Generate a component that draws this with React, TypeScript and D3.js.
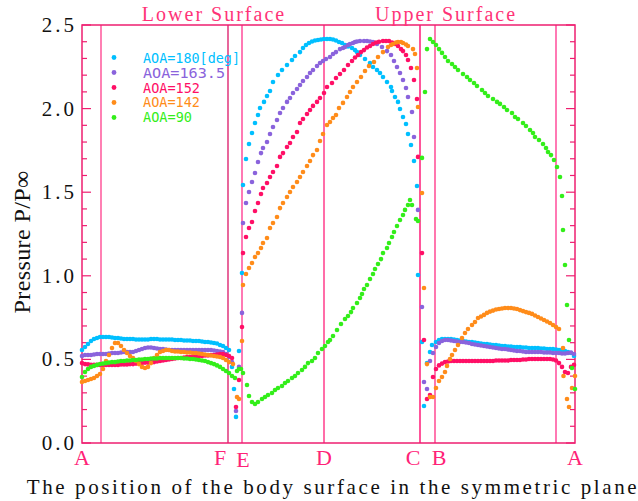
import React from "react";
import * as d3 from "d3";

// ---------- data (x = position along body surface, y = P/P∞) ----------
const lowerStart = 0;
const upperStart = 354;
const sampleStep = 3;

const aoa180Lower = [
  0.556, 0.574, 0.592, 0.61, 0.622, 0.628, 0.634, 0.634, 0.634, 0.634,
  0.631, 0.628, 0.628, 0.625, 0.622, 0.622, 0.622, 0.622, 0.619, 0.619,
  0.619, 0.619, 0.619, 0.622, 0.622, 0.622, 0.619, 0.619, 0.619, 0.619,
  0.619, 0.616, 0.616, 0.616, 0.613, 0.613, 0.613, 0.61, 0.61, 0.61,
  0.607, 0.604, 0.604, 0.601, 0.598, 0.595, 0.586, 0.58, 0.568,
];
const aoa180Mid = [
  [147, 0.556], [150, 0.455], [152, 0.323], [154, 0.156], [157, 0.55], [160, 1.017],
  [161, 1.543], [164, 1.699], [167, 1.788], [170, 1.854], [173, 1.914], [176, 1.962],
  [178, 2.004], [182, 2.04], [185, 2.075], [188, 2.105], [191, 2.159], [196, 2.201],
  [200, 2.231], [205, 2.261], [210, 2.291], [213, 2.315], [218, 2.338], [221, 2.362],
  [224, 2.38], [227, 2.392], [230, 2.401], [233, 2.407], [236, 2.41], [239, 2.413],
  [242, 2.416], [245, 2.416], [248, 2.416], [251, 2.413], [254, 2.407], [257, 2.398],
  [260, 2.392], [263, 2.38], [266, 2.371], [270, 2.362], [273, 2.35], [275, 2.338],
  [278, 2.321], [283, 2.297], [288, 2.273], [291, 2.249], [295, 2.231], [298, 2.213],
  [301, 2.189], [305, 2.159], [309, 2.129], [310, 2.105], [313, 2.069], [316, 2.04],
  [318, 1.998], [321, 1.95], [324, 1.908], [326, 1.848], [329, 1.782], [332, 1.687],
  [335, 1.537], [336, 1.005], [340, 0.604], [342, 0.221], [345, 0.478], [348, 0.544],
  [350, 0.586],
];
const aoa180Upper = [
  0.604, 0.616, 0.622, 0.622, 0.622, 0.622, 0.619, 0.616, 0.613, 0.61,
  0.607, 0.604, 0.604, 0.601, 0.598, 0.595, 0.592, 0.592, 0.589, 0.586,
  0.586, 0.583, 0.58, 0.58, 0.577, 0.577, 0.574, 0.574, 0.574, 0.571,
  0.571, 0.568, 0.568, 0.568, 0.568, 0.565, 0.565, 0.562, 0.562, 0.562,
  0.559, 0.556, 0.556, 0.55, 0.544, 0.538, 0.52,
];

const aoa1635Lower = [
  0.52, 0.526, 0.526, 0.526, 0.529, 0.532, 0.532, 0.532, 0.532, 0.535,
  0.538, 0.538, 0.538, 0.541, 0.544, 0.544, 0.544, 0.544, 0.55, 0.556,
  0.562, 0.568, 0.571, 0.571, 0.568, 0.565, 0.562, 0.562, 0.559, 0.556,
  0.556, 0.556, 0.556, 0.556, 0.556, 0.556, 0.556, 0.556, 0.556, 0.556,
  0.556, 0.556, 0.556, 0.556, 0.553, 0.55, 0.547, 0.544, 0.532,
];
const aoa1635Mid = [
  [147, 0.514], [150, 0.484], [154, 0.191], [157, 0.455], [160, 0.778], [161, 1.316],
  [164, 1.435], [167, 1.501], [170, 1.561], [173, 1.615], [176, 1.681], [179, 1.734],
  [181, 1.764], [185, 1.8], [188, 1.848], [191, 1.89], [195, 1.932], [198, 1.974],
  [201, 2.004], [205, 2.04], [208, 2.063], [211, 2.093], [215, 2.117], [218, 2.141],
  [221, 2.165], [225, 2.189], [228, 2.213], [231, 2.231], [235, 2.255], [238, 2.273],
  [241, 2.285], [244, 2.297], [248, 2.309], [251, 2.327], [254, 2.338], [258, 2.356],
  [261, 2.362], [263, 2.368], [266, 2.38], [268, 2.386], [271, 2.392], [273, 2.398],
  [275, 2.401], [278, 2.404], [282, 2.404], [285, 2.404], [288, 2.401], [291, 2.398],
  [295, 2.386], [300, 2.368], [305, 2.344], [309, 2.321], [312, 2.285], [315, 2.249],
  [318, 2.213], [321, 2.171], [324, 2.123], [326, 2.069], [330, 1.98], [332, 1.83],
  [336, 1.394], [340, 0.813], [342, 0.365], [345, 0.323], [348, 0.49], [351, 0.538],
];
const aoa1635Upper = [
  0.574, 0.598, 0.61, 0.616, 0.616, 0.613, 0.61, 0.607, 0.604, 0.604,
  0.601, 0.598, 0.592, 0.589, 0.586, 0.583, 0.58, 0.577, 0.574, 0.571,
  0.568, 0.565, 0.562, 0.562, 0.559, 0.556, 0.553, 0.55, 0.55, 0.547,
  0.544, 0.544, 0.544, 0.544, 0.544, 0.544, 0.541, 0.541, 0.541, 0.538,
  0.538, 0.538, 0.535, 0.535, 0.538, 0.541, 0.532,
];

const aoa152Lower = [
  0.478, 0.472, 0.47, 0.467, 0.467, 0.467, 0.467, 0.467, 0.467, 0.467,
  0.467, 0.467, 0.467, 0.47, 0.47, 0.47, 0.472, 0.472, 0.475, 0.478,
  0.478, 0.481, 0.481, 0.484, 0.484, 0.487, 0.49, 0.493, 0.496, 0.499,
  0.502, 0.505, 0.508, 0.508, 0.511, 0.514, 0.514, 0.517, 0.517, 0.52,
  0.52, 0.523, 0.523, 0.526, 0.526, 0.529, 0.532, 0.532, 0.526,
];
const aoa152Mid = [
  [147, 0.52], [150, 0.508], [154, 0.215], [157, 0.377], [160, 0.694], [161, 1.136],
  [164, 1.232], [167, 1.286], [170, 1.322], [173, 1.388], [176, 1.435], [179, 1.489],
  [181, 1.525], [185, 1.555], [188, 1.591], [191, 1.621], [195, 1.657], [198, 1.711],
  [201, 1.734], [205, 1.77], [208, 1.794], [211, 1.83], [215, 1.86], [218, 1.914],
  [221, 1.938], [225, 1.968], [228, 1.992], [231, 2.016], [235, 2.04], [238, 2.063],
  [242, 2.093], [245, 2.129], [250, 2.153], [254, 2.183], [258, 2.207], [262, 2.231],
  [266, 2.261], [270, 2.285], [273, 2.306], [276, 2.321], [279, 2.338], [282, 2.35],
  [285, 2.365], [288, 2.374], [291, 2.386], [294, 2.395], [297, 2.4], [301, 2.404],
  [304, 2.404], [307, 2.404], [310, 2.395], [313, 2.386], [316, 2.374], [319, 2.356],
  [321, 2.344], [324, 2.321], [326, 2.291], [329, 2.243], [332, 2.171], [335, 2.057],
  [336, 1.711], [340, 1.136], [342, 0.616], [345, 0.263], [348, 0.287], [351, 0.395],
];
const aoa152Upper = [
  0.443, 0.464, 0.475, 0.484, 0.487, 0.49, 0.49, 0.49, 0.49, 0.49,
  0.49, 0.49, 0.49, 0.49, 0.49, 0.49, 0.49, 0.49, 0.49, 0.49,
  0.493, 0.493, 0.493, 0.493, 0.493, 0.496, 0.496, 0.496, 0.496, 0.499,
  0.499, 0.502, 0.502, 0.502, 0.502, 0.502, 0.502, 0.502, 0.502, 0.499,
  0.493, 0.478, 0.455, 0.425, 0.419, 0.455, 0.467,
];

const aoa142Lower = [
  0.365, 0.371, 0.377, 0.383, 0.389, 0.401, 0.413, 0.443, 0.49, 0.526,
  0.568, 0.598, 0.598, 0.58, 0.556, 0.538, 0.52, 0.508, 0.49, 0.472,
  0.455, 0.449, 0.455, 0.478, 0.508, 0.526, 0.544, 0.55, 0.556, 0.556,
  0.55, 0.547, 0.547, 0.544, 0.544, 0.541, 0.541, 0.538, 0.538, 0.535,
  0.532, 0.529, 0.526, 0.523, 0.52, 0.517, 0.514, 0.508, 0.496,
];
const aoa142Mid = [
  [147, 0.484], [151, 0.472], [155, 0.275], [157, 0.263], [160, 0.61], [161, 0.945],
  [164, 1.011], [167, 1.047], [170, 1.077], [173, 1.112], [176, 1.136], [179, 1.166],
  [181, 1.196], [185, 1.226], [188, 1.286], [191, 1.316], [195, 1.352], [198, 1.405],
  [201, 1.435], [205, 1.471], [208, 1.501], [211, 1.531], [215, 1.561], [218, 1.591],
  [221, 1.621], [225, 1.657], [228, 1.687], [231, 1.722], [235, 1.752], [238, 1.806],
  [241, 1.848], [245, 1.902], [248, 1.92], [251, 1.944], [254, 1.962], [257, 2.004],
  [261, 2.034], [265, 2.069], [268, 2.099], [271, 2.129], [275, 2.159], [279, 2.189],
  [283, 2.225], [287, 2.255], [292, 2.279], [296, 2.309], [301, 2.338], [306, 2.368],
  [309, 2.38], [311, 2.386], [314, 2.395], [316, 2.398], [319, 2.398], [321, 2.392],
  [324, 2.383], [326, 2.374], [331, 2.356], [333, 2.327], [335, 2.243], [336, 2.01],
  [340, 1.495], [342, 0.927], [345, 0.472], [348, 0.275], [351, 0.275],
  [354, 0.329], [357, 0.371], [360, 0.395], [363, 0.425], [365, 0.461], [368, 0.502],
  [370, 0.526], [373, 0.556], [376, 0.586], [380, 0.628], [383, 0.658], [386, 0.682],
  [390, 0.706], [393, 0.724], [396, 0.748], [399, 0.757], [402, 0.766], [405, 0.778],
  [408, 0.786], [411, 0.792], [414, 0.798], [417, 0.801], [420, 0.804], [423, 0.807],
  [426, 0.807], [429, 0.807], [432, 0.804], [435, 0.801], [438, 0.795], [441, 0.789],
  [444, 0.783], [447, 0.778], [450, 0.772], [453, 0.763], [456, 0.754], [459, 0.745],
  [462, 0.736], [465, 0.727], [468, 0.718], [471, 0.706], [474, 0.694], [477, 0.682],
  [481, 0.568], [481.5, 0.401], [485, 0.263], [487, 0.215], [490, 0.329], [493, 0.401],
];

const aoa90Lower = [
  0.395, 0.425, 0.443, 0.455, 0.461, 0.467, 0.472, 0.475, 0.478, 0.481,
  0.484, 0.484, 0.487, 0.49, 0.49, 0.493, 0.493, 0.496, 0.496, 0.499,
  0.499, 0.502, 0.502, 0.505, 0.505, 0.505, 0.508, 0.508, 0.508, 0.508,
  0.508, 0.508, 0.508, 0.508, 0.505, 0.505, 0.502, 0.502, 0.499, 0.496,
  0.493, 0.49, 0.484, 0.478, 0.472, 0.464, 0.455, 0.443, 0.431,
];
const aoa90Mid = [
  [147, 0.419], [150, 0.401], [153, 0.389], [155, 0.431], [157, 0.443], [159, 0.443],
  [161, 0.419], [165, 0.347], [167, 0.281], [170, 0.245], [173, 0.233], [176, 0.245],
  [180, 0.263], [183, 0.275], [186, 0.287], [190, 0.299], [193, 0.317], [196, 0.329],
  [200, 0.341], [203, 0.359], [206, 0.371], [210, 0.389], [213, 0.401], [216, 0.419],
  [220, 0.437], [223, 0.455], [226, 0.478], [230, 0.49], [233, 0.508], [236, 0.538],
  [240, 0.562], [243, 0.58], [246, 0.604], [248, 0.616], [251, 0.64], [255, 0.676],
  [259, 0.712], [263, 0.742], [266, 0.76], [269, 0.783], [271, 0.807], [275, 0.837],
  [278, 0.867], [280, 0.891], [282, 0.921], [285, 0.945], [288, 0.981], [291, 1.011],
  [293, 1.041], [296, 1.071], [299, 1.1], [301, 1.136], [305, 1.166], [307, 1.196],
  [310, 1.232], [312, 1.262], [315, 1.298], [318, 1.334], [321, 1.364], [323, 1.394],
  [326, 1.423], [328, 1.453], [330, 1.423], [334, 1.34], [336, 1.328], [340, 1.705],
  [343, 2.099], [345, 2.356], [348, 2.416], [351, 2.398], [354, 2.38], [357, 2.356],
  [360, 2.333], [363, 2.309], [366, 2.285], [370, 2.267], [373, 2.249], [376, 2.231],
  [381, 2.207], [385, 2.189], [388, 2.171], [392, 2.153], [395, 2.135], [400, 2.111],
  [403, 2.093], [406, 2.075], [411, 2.057], [415, 2.04], [418, 2.028], [422, 2.01],
  [425, 1.992], [430, 1.974], [433, 1.95], [436, 1.938], [441, 1.914], [444, 1.896],
  [448, 1.872], [451, 1.854], [453, 1.83], [457, 1.812], [461, 1.788], [464, 1.764],
  [466, 1.74], [469, 1.722], [472, 1.693], [475, 1.651], [478, 1.591], [480, 1.477],
  [481, 1.274], [483, 1.065], [485, 0.825], [487, 0.616], [490, 0.449], [493, 0.323],
];

const seriesNames = ["AOA=180[deg]", "AOA=163.5", "AOA=152", "AOA=142", "AOA=90"];
const seriesColors = ["#00bfff", "#8a63dc", "#ff0f66", "#ff8c1a", "#33ee1a"];

// surface stations (x positions) and their labels
const stationLines = [19, 146, 160, 242, 338, 353, 474];
const stationLabels = ["A", "F", "E", "D", "C", "B", "A"];
const stationLabelPos = [0, 138, 161, 242, 331, 357, 493];
const yTickLabels = ["0.0", "0.5", "1.0", "1.5", "2.0", "2.5"];

// ---------- build ----------
function assemble(lower: number[], mid: number[][], upper: number[] | null) {
  const pts: number[][] = lower.map((p, i) => [lowerStart + i * sampleStep, p]);
  mid.forEach((d) => pts.push(d));
  if (upper) upper.forEach((p, i) => pts.push([upperStart + i * sampleStep, p]));
  return pts;
}

const allSeries = [
  assemble(aoa180Lower, aoa180Mid, aoa180Upper),
  assemble(aoa1635Lower, aoa1635Mid, aoa1635Upper),
  assemble(aoa152Lower, aoa152Mid, aoa152Upper),
  assemble(aoa142Lower, aoa142Mid, null),
  assemble(aoa90Lower, aoa90Mid, null),
];

const W = 638;
const H = 501;
const PL = 82, PR = 575, PT = 25, PB = 443;

const lineStyles = [
  { stroke: "#ff3d8b", w: 1.3 },
  { stroke: "#d8005a", w: 1.2 },
  { stroke: "#ff79b4", w: 2 },
  { stroke: "#ff3d8b", w: 1.5 },
  { stroke: "#ff2a80", w: 1.6 },
  { stroke: "#ff3d8b", w: 1.4 },
  { stroke: "#ff79b4", w: 2 },
];

const legendTextLen = [97, 82, 57, 57, 49];

export default function App() {
  const x = d3.scaleLinear().domain([0, 493]).range([PL, PR]);
  const y = d3.scaleLinear().domain([0, 2.5]).range([PB, PT]);
  const ticks = d3.range(0, 26).map((i) => i / 10);
  const frame = "#ee1f70";
  const pink = "#ff2277";
  const serif = "Liberation Serif, Tinos, Times New Roman, DejaVu Serif, serif";

  return (
    <svg
      width={W}
      height={H}
      viewBox={`0 0 ${W} ${H}`}
      style={{ position: "absolute", left: 0, top: 0, background: "#fff" }}
    >
      <rect x={0} y={0} width={W} height={H} fill="#fff" />
      {/* station lines */}
      {stationLines.map((s, i) => (
        <line
          key={"sl" + i}
          x1={x(s)}
          x2={x(s)}
          y1={PT}
          y2={PB}
          stroke={lineStyles[i].stroke}
          strokeWidth={lineStyles[i].w}
        />
      ))}
      {/* frame */}
      <rect x={PL} y={PT} width={PR - PL} height={PB - PT} fill="none" stroke={frame} strokeWidth={1.5} />
      {/* ticks */}
      {ticks.map((t, i) => {
        const len = i % 5 === 0 ? 9 : 5;
        return (
          <g key={"t" + i}>
            <line x1={PL} x2={PL + len} y1={y(t)} y2={y(t)} stroke={frame} strokeWidth={1.2} />
            <line x1={PR} x2={PR - len} y1={y(t)} y2={y(t)} stroke={frame} strokeWidth={1.2} />
          </g>
        );
      })}
      {yTickLabels.map((lab, i) => (
        <text
          key={"yl" + i}
          x={77}
          y={y(i * 0.5) + 7}
          textAnchor="end"
          style={{ fontFamily: serif }}
          fontSize={21}
          letterSpacing={3}
          fill="#111"
        >
          {lab}
        </text>
      ))}
      {/* data */}
      {allSeries.map((pts, si) => (
        <g key={"s" + si} fill={seriesColors[si]}>
          {pts.map((d, j) => (
            <circle key={j} cx={x(d[0])} cy={y(d[1])} r={2.3} />
          ))}
        </g>
      ))}
      {/* legend */}
      {seriesNames.map((n, i) => (
        <g key={"lg" + i}>
          <circle cx={114} cy={57.5 + i * 15} r={2.4} fill={seriesColors[i]} />
          <text
            x={143}
            y={63 + i * 14.8}
            style={{ fontFamily: "DejaVu Sans Mono, monospace" }}
            fontSize={14.5}
            textLength={legendTextLen[i]}
            lengthAdjust="spacingAndGlyphs"
            fill={seriesColors[i]}
          >
            {n}
          </text>
        </g>
      ))}
      {/* section titles */}
      <text x={214} y={21} textAnchor="middle" style={{ fontFamily: serif }} fontSize={20} letterSpacing={2} fill="#ff3377">
        Lower Surface
      </text>
      <text x={446} y={21} textAnchor="middle" style={{ fontFamily: serif }} fontSize={20} letterSpacing={2} fill="#ff3377">
        Upper Surface
      </text>
      {/* station labels */}
      {stationLabels.map((l, i) => (
        <text
          key={"st" + i}
          x={x(stationLabelPos[i])}
          y={l === "E" ? 467 : 465}
          textAnchor="middle"
          style={{ fontFamily: serif }}
          fontSize={22}
          fill={pink}
        >
          {l}
        </text>
      ))}
      {/* axis titles */}
      <text x={333} y={494} textAnchor="middle" style={{ fontFamily: serif }} fontSize={21} letterSpacing={2.6} fill="#111">
        The position of the body surface in the symmetric plane
      </text>
      <text
        transform="translate(30,242) rotate(-90)"
        textAnchor="middle"
        style={{ fontFamily: serif }}
        fontSize={24}
        letterSpacing={0.4}
        fill="#111"
      >
        Pressure P/P∞
      </text>
    </svg>
  );
}
